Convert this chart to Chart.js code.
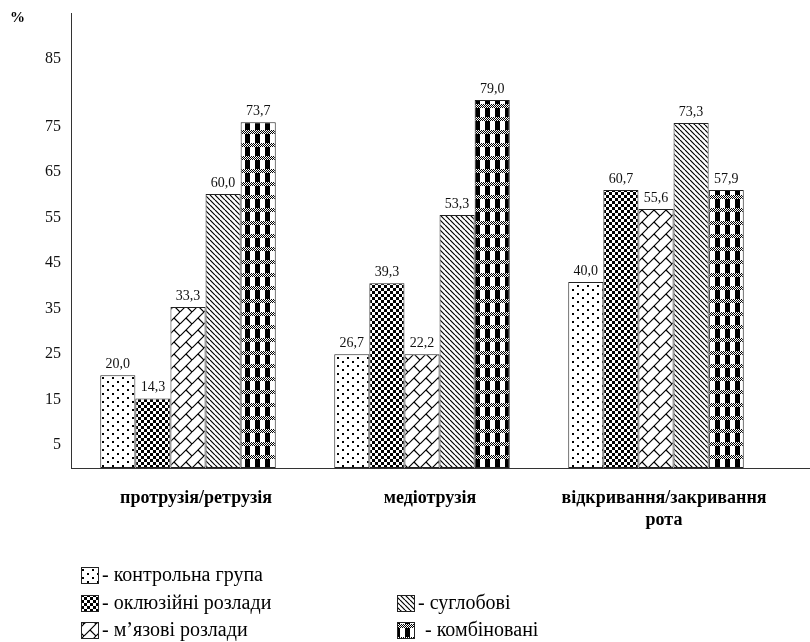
<!DOCTYPE html>
<html>
<head>
<meta charset="utf-8">
<script src="https://cdn.jsdelivr.net/npm/chart.js@4"></script>
<style>
  body { margin: 0; background: #fff; }
  #wrap { width: 810px; height: 642px; }
</style>
</head>
<body>
<div id="wrap"><canvas id="chart" width="810" height="642"></canvas></div>
<script>
// categories (x axis)
const categories = [['протрузія/ретрузія'], ['медіотрузія'], ['відкривання/закривання', 'рота']];
const seriesNames = ['контрольна група', 'оклюзійні розлади', 'м’язові розлади', 'суглобові', 'комбіновані'];

// bar heights as drawn in the picture
const controlGroup = [20.4, 25.0, 40.9];
const occlusal = [15.3, 40.6, 61.1];
const muscular = [35.4, 25.0, 56.9];
const articular = [60.2, 55.6, 75.8];
const combined = [76.0, 80.9, 61.1];

// value labels printed above the bars
const controlLabels = ['20,0', '26,7', '40,0'];
const occlusalLabels = ['14,3', '39,3', '60,7'];
const muscularLabels = ['33,3', '22,2', '55,6'];
const articularLabels = ['60,0', '53,3', '73,3'];
const combinedLabels = ['73,7', '79,0', '57,9'];

// y axis ticks (the top label sits higher than the regular step)
const yTickValues = [5, 15, 25, 35, 45, 55, 65, 75, 90];
const yTickLabels = ['5', '15', '25', '35', '45', '55', '65', '75', '85'];

const canvas = document.getElementById('chart');
const ctx = canvas.getContext('2d');
const SERIF = '"Liberation Serif", serif';

function makePattern(w, h, draw) {
    const c = document.createElement('canvas');
    c.width = w;
    c.height = h;
    const g = c.getContext('2d');
    g.fillStyle = '#fff';
    g.fillRect(0, 0, w, h);
    g.fillStyle = '#000';
    g.strokeStyle = '#000';
    draw(g, w, h);
    return ctx.createPattern(c, 'repeat');
}

const patterns = [
    // dots
    makePattern(10, 8, g => {
        g.fillRect(2, 1, 2, 2);
        g.fillRect(7, 5, 2, 2);
    }),
    // checkerboard
    makePattern(6, 6, g => {
        g.fillRect(3, 0, 3, 3);
        g.fillRect(0, 3, 3, 3);
    }),
    // diagonal brick
    makePattern(12, 12, g => {
        g.lineWidth = 1.2;
        g.beginPath();
        [-12, 0, 12].forEach(d => {
            g.moveTo(d, 12);
            g.lineTo(d + 12, 0);
        });
        g.moveTo(6, 6);
        g.lineTo(12, 12);
        g.stroke();
    }),
    // dense back-diagonal
    makePattern(5, 5, g => {
        g.lineWidth = 1.2;
        g.beginPath();
        [-5, 0, 5].forEach(d => {
            g.moveTo(d, 0);
            g.lineTo(d + 5, 5);
        });
        g.stroke();
    }),
    // plaid
    makePattern(10, 13, g => {
        g.fillRect(5, 0, 5, 13);
        for (let x = 0; x < 10; x++) {
            for (let y = 0; y < 4; y++) {
                g.fillStyle = (x + y) % 2 ? '#000' : '#fff';
                g.fillRect(x, y, 1, 1);
            }
        }
    })
];

const values = [controlGroup, occlusal, muscular, articular, combined];
const labels = [controlLabels, occlusalLabels, muscularLabels, articularLabels, combinedLabels];

const datasets = seriesNames.map((name, i) => ({
    label: name,
    data: values[i],
    valueLabels: labels[i],
    backgroundColor: patterns[i],
    borderColor: '#222',
    borderWidth: 1,
    borderSkipped: false,
    barPercentage: 1,
    categoryPercentage: 0.75
}));

// value labels above bars
const valueLabelPlugin = {
    id: 'valueLabels',
    afterDatasetsDraw(chart) {
        const c = chart.ctx;
        c.save();
        c.font = '14px ' + SERIF;
        c.fillStyle = '#111';
        c.textAlign = 'center';
        c.textBaseline = 'bottom';
        chart.data.datasets.forEach((ds, i) => {
            chart.getDatasetMeta(i).data.forEach((bar, j) => {
                c.fillText(ds.valueLabels[j], bar.x, bar.y - 4);
            });
        });
        c.restore();
    }
};

// baseline running to the right edge, "%" sign and the two-column legend
const decorPlugin = {
    id: 'decor',
    afterDraw(chart) {
        const c = chart.ctx;
        const area = chart.chartArea;
        c.save();
        c.strokeStyle = '#333';
        c.lineWidth = 1;
        c.beginPath();
        c.moveTo(area.right, Math.round(area.bottom) + 0.5);
        c.lineTo(chart.width, Math.round(area.bottom) + 0.5);
        c.stroke();

        c.fillStyle = '#000';
        c.font = 'bold 15px ' + SERIF;
        c.textAlign = 'left';
        c.textBaseline = 'middle';
        c.fillText('%', 10, 18);

        const slots = [[81, 575], [81, 603], [81, 630], [397, 603], [397, 630]];
        c.font = '20px ' + SERIF;
        chart.data.datasets.forEach((ds, i) => {
            const [x, y] = slots[i];
            c.fillStyle = ds.backgroundColor;
            c.fillRect(x, y - 8, 18, 17);
            c.strokeStyle = '#222';
            c.strokeRect(x + 0.5, y - 7.5, 17, 16);
            c.fillStyle = '#000';
            c.fillText('- ' + ds.label, x + (i === 4 ? 28 : 21), y + 1);
        });
        c.restore();
    }
};

new Chart(canvas, {
    type: 'bar',
    data: { labels: categories, datasets },
    options: {
        responsive: false,
        animation: false,
        layout: { padding: { top: 13, left: 0, right: 37, bottom: 104 } },
        plugins: {
            legend: { display: false },
            tooltip: { enabled: false }
        },
        scales: {
            x: {
                grid: { display: false, drawTicks: false },
                border: { display: true, color: '#333', width: 1 },
                ticks: {
                    color: '#000',
                    padding: 20,
                    labelOffset: 8,
                    maxRotation: 0,
                    autoSkip: false,
                    font: { family: SERIF, size: 18, weight: 'bold' }
                },
                afterFit(scale) {
                    scale.height = 70;
                    scale.paddingLeft = 0;
                    scale.paddingRight = 0;
                }
            },
            y: {
                min: 0,
                max: 100,
                grid: { display: false, drawTicks: false },
                border: { display: true, color: '#333', width: 1 },
                afterBuildTicks(scale) {
                    scale.ticks = yTickValues.map(v => ({ value: v }));
                },
                ticks: {
                    color: '#111',
                    padding: 10,
                    font: { family: SERIF, size: 16 },
                    callback: (v, i) => yTickLabels[i]
                },
                afterFit(scale) {
                    scale.width = 71;
                    scale.paddingTop = 0;
                    scale.paddingBottom = 0;
                }
            }
        }
    },
    plugins: [valueLabelPlugin, decorPlugin]
});
</script>
</body>
</html>
